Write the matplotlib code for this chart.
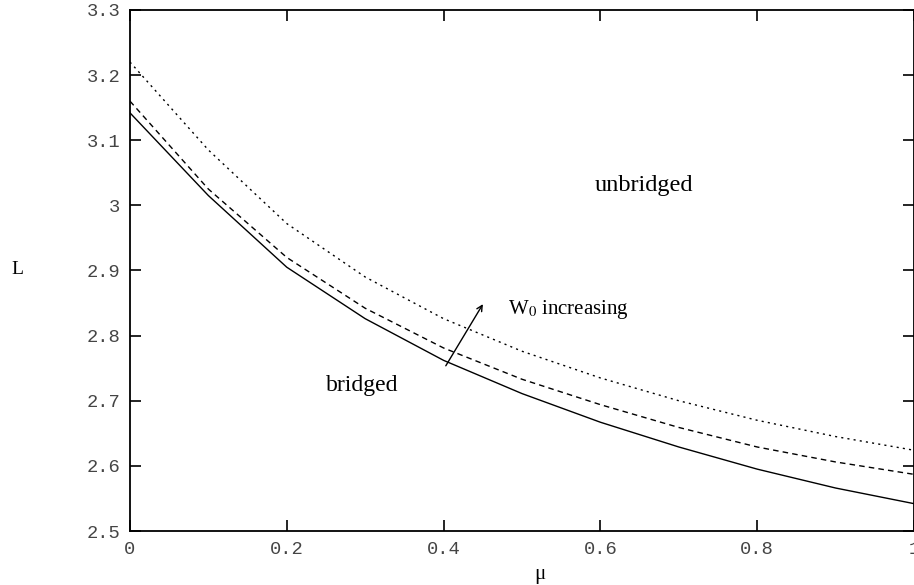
import matplotlib.pyplot as plt
import numpy as np

# mu samples and L for three W0 values
mu = [0.0, 0.1, 0.2, 0.3, 0.4, 0.5, 0.6, 0.7, 0.8, 0.9, 1.0]
L_solid = [3.142, 3.015, 2.905, 2.826, 2.762, 2.711, 2.667, 2.629, 2.595, 2.566, 2.542]
L_dashed = [3.160, 3.025, 2.920, 2.842, 2.781, 2.733, 2.694, 2.659, 2.629, 2.606, 2.587]
L_dotted = [3.220, 3.085, 2.972, 2.890, 2.826, 2.776, 2.735, 2.700, 2.670, 2.645, 2.624]

xticks = [0, 0.2, 0.4, 0.6, 0.8, 1]
xticklabels = ['0', '0.2', '0.4', '0.6', '0.8', '1']
yticks = [2.5, 2.6, 2.7, 2.8, 2.9, 3.0, 3.1, 3.2, 3.3]
yticklabels = ['2.5', '2.6', '2.7', '2.8', '2.9', '3', '3.1', '3.2', '3.3']

plt.rcParams['mathtext.fontset'] = 'stix'

fig = plt.figure(figsize=(9.14, 5.85), dpi=100)
ax = fig.add_axes([0.1422, 0.0923, 0.8578, 0.8907])

ax.plot(mu, L_solid, color='black', lw=1.0, linestyle='-')
ax.plot(mu, L_dashed, color='black', lw=1.0, linestyle=(0, (4, 3)))
ax.plot(mu, L_dotted, color='black', lw=1.0, linestyle=(0, (1.5, 3)))

ax.set_xlim(0, 1)
ax.set_ylim(2.5, 3.3)
ax.set_xticks(xticks)
ax.set_xticklabels(xticklabels)
ax.set_yticks(yticks)
ax.set_yticklabels(yticklabels)
ax.tick_params(direction='in', length=8, width=1.2, top=True, right=True,
               labelsize=13.5, pad=7)
for lab in ax.get_xticklabels() + ax.get_yticklabels():
    lab.set_family('Liberation Mono')
    lab.set_color('#444444')
for s in ax.spines.values():
    s.set_linewidth(1.3)

serif = 'Liberation Serif'
ax.annotate('', xy=(0.452, 2.852), xytext=(0.401, 2.75),
            arrowprops=dict(arrowstyle='->', color='black', lw=1.0))
ax.text(0.482, 2.84, r'W$_0$ increasing', family=serif, fontsize=15, va='center')
ax.text(0.656, 3.03, 'unbridged', family=serif, fontsize=17.5, ha='center', va='center')
ax.text(0.296, 2.724, 'bridged', family=serif, fontsize=17, ha='center', va='center')

fig.text(17 / 914, 1 - 270 / 585, 'L', family=serif, fontsize=14, ha='center', va='center')
fig.text(540 / 914, 1 - 575 / 585, 'μ', family=serif, fontsize=15, ha='center', va='center')

plt.savefig('out.png', dpi=100)
